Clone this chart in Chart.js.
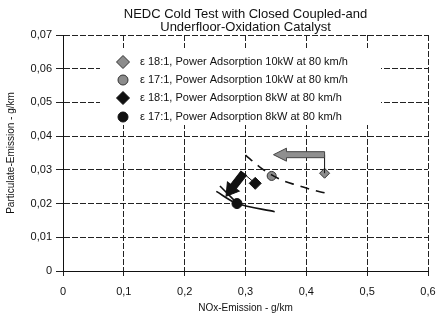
<!DOCTYPE html>
<html>
<head>
<meta charset="utf-8">
<script src="https://cdn.jsdelivr.net/npm/chart.js@4.4.1/dist/chart.umd.min.js"></script>
<style>
  html, body { margin: 0; padding: 0; background: #fff; }
  #wrap { width: 438px; height: 314px; }
</style>
</head>
<body>
<div id="wrap"><canvas id="grafico" width="438" height="314"></canvas></div>
<script>
// dados
var tituloLinhas = ["NEDC Cold Test with Closed Coupled-and", "Underfloor-Oxidation Catalyst"];
var xTickValores = [0, 0.1, 0.2, 0.3, 0.4, 0.5, 0.6];
var xTickLabels = ["0", "0,1", "0,2", "0,3", "0,4", "0,5", "0,6"];
var yTickValores = [0, 0.01, 0.02, 0.03, 0.04, 0.05, 0.06, 0.07];
var yTickLabels = ["0", "0,01", "0,02", "0,03", "0,04", "0,05", "0,06", "0,07"];

var serieLabels = [
  "\u03b5 18:1, Power Adsorption 10kW at 80 km/h",
  "\u03b5 17:1, Power Adsorption 10kW at 80 km/h",
  "\u03b5 18:1, Power Adsorption 8kW at 80 km/h",
  "\u03b5 17:1, Power Adsorption 8kW at 80 km/h"
];
var noxValores = [0.430, 0.343, 0.316, 0.286];
var pmValores = [0.0290, 0.0282, 0.0260, 0.0200];

// curva tracejada (10kW)
var tracejadaX = [0.300, 0.323, 0.343, 0.364, 0.384, 0.411, 0.430];
var tracejadaY = [0.0344, 0.0309, 0.0285, 0.0266, 0.0255, 0.0240, 0.0232];
// linhas cheias (8kW)
var cheiaAX = [0.252, 0.286, 0.348];
var cheiaAY = [0.0236, 0.0200, 0.0176];
var cheiaBX = [0.258, 0.284];
var cheiaBY = [0.0252, 0.0205];
// ligacoes finas
var ligaAX = [0.430, 0.430];
var ligaAY = [0.0290, 0.0345];
var ligaBX = [0.293, 0.316];
var ligaBY = [0.0295, 0.0260];
// setas: [x inicio, y inicio, x ponta, y ponta]
var setaCinza = [0.430, 0.0345, 0.346, 0.0345];
var setaPreta = [0.297, 0.0290, 0.268, 0.0222];

function pares(xs, ys) {
  return xs.map(function (x, i) { return { x: x, y: ys[i] }; });
}

var estilos = [
  { pointStyle: "rectRot", radius: 5, fill: "#8c8c8c", borda: "#333" },
  { pointStyle: "circle", radius: 4.5, fill: "#8c8c8c", borda: "#333" },
  { pointStyle: "rectRot", radius: 6, fill: "#111", borda: "#111" },
  { pointStyle: "circle", radius: 5, fill: "#111", borda: "#111" }
];

var datasets = [];
// linhas
datasets.push({ type: "line", data: pares(tracejadaX, tracejadaY), borderColor: "#111", borderWidth: 1.6,
  borderDash: [9, 7], pointRadius: 0, cubicInterpolationMode: "monotone", fill: false });
datasets.push({ type: "line", data: pares(cheiaAX, cheiaAY), borderColor: "#111", borderWidth: 1.6,
  pointRadius: 0, tension: 0.3, fill: false });
datasets.push({ type: "line", data: pares(cheiaBX, cheiaBY), borderColor: "#111", borderWidth: 1.6,
  pointRadius: 0, fill: false });
datasets.push({ type: "line", data: pares(ligaAX, ligaAY), borderColor: "#111", borderWidth: 1,
  pointRadius: 0, fill: false });
datasets.push({ type: "line", data: pares(ligaBX, ligaBY), borderColor: "#111", borderWidth: 1,
  pointRadius: 0, fill: false });
// pontos
for (var i = 0; i < serieLabels.length; i++) {
  datasets.push({
    type: "scatter",
    label: serieLabels[i],
    data: [{ x: noxValores[i], y: pmValores[i] }],
    pointStyle: estilos[i].pointStyle,
    pointRadius: estilos[i].radius,
    backgroundColor: estilos[i].fill,
    borderColor: estilos[i].borda,
    borderWidth: 1
  });
}

function desenharSeta(ctx, x0, y0, x1, y1, meia, cabeca, compCabeca, cor, borda) {
  var ang = Math.atan2(y1 - y0, x1 - x0);
  var len = Math.hypot(x1 - x0, y1 - y0);
  ctx.save();
  ctx.translate(x0, y0);
  ctx.rotate(ang);
  ctx.beginPath();
  ctx.moveTo(0, -meia);
  ctx.lineTo(len - compCabeca, -meia);
  ctx.lineTo(len - compCabeca, -cabeca);
  ctx.lineTo(len, 0);
  ctx.lineTo(len - compCabeca, cabeca);
  ctx.lineTo(len - compCabeca, meia);
  ctx.lineTo(0, meia);
  ctx.closePath();
  ctx.fillStyle = cor;
  ctx.fill();
  ctx.lineWidth = 1;
  ctx.strokeStyle = borda;
  ctx.stroke();
  ctx.restore();
}

var extras = {
  id: "extras",
  afterDatasetsDraw: function (chart) {
    var ctx = chart.ctx;
    var sx = chart.scales.x, sy = chart.scales.y;
    desenharSeta(ctx, sx.getPixelForValue(setaCinza[0]), sy.getPixelForValue(setaCinza[1]),
      sx.getPixelForValue(setaCinza[2]), sy.getPixelForValue(setaCinza[3]), 3, 6.5, 13, "#8f8f8f", "#444");
    desenharSeta(ctx, sx.getPixelForValue(setaPreta[0]), sy.getPixelForValue(setaPreta[1]),
      sx.getPixelForValue(setaPreta[2]), sy.getPixelForValue(setaPreta[3]), 3.5, 7.5, 12, "#111", "#111");
  },
  afterDraw: function (chart) {
    var ctx = chart.ctx;
    var area = chart.chartArea;
    // titulo
    ctx.save();
    ctx.fillStyle = "#111";
    ctx.font = "13px 'Liberation Sans', Arial, sans-serif";
    ctx.textAlign = "center";
    ctx.textBaseline = "middle";
    var cx = (area.left + area.right) / 2;
    ctx.fillText(tituloLinhas[0], cx, 14);
    ctx.fillText(tituloLinhas[1], cx, 27);
    // legenda dentro do grafico
    ctx.fillStyle = "#fff";
    ctx.fillRect(100, 48, 281, 77);
    var linhas = [62, 80, 98, 117];
    ctx.font = "11px 'Liberation Sans', Arial, sans-serif";
    ctx.textAlign = "left";
    for (var i = 0; i < serieLabels.length; i++) {
      var ds = chart.data.datasets[5 + i];
      ctx.fillStyle = ds.backgroundColor;
      ctx.strokeStyle = ds.borderColor;
      ctx.lineWidth = 1;
      Chart.helpers.drawPoint(ctx, { pointStyle: ds.pointStyle, radius: ds.pointStyle === "rectRot" ? 6.5 : 5, borderWidth: 1, rotation: 0 }, 123, linhas[i]);
      ctx.fillStyle = "#111";
      ctx.fillText(serieLabels[i], 140, linhas[i]);
    }
    ctx.restore();
  }
};

var fonte = "'Liberation Sans', Arial, sans-serif";

var graf = document.getElementById("grafico").getContext("2d");
var grafico = new Chart(graf, {
  data: { datasets: datasets },
  options: {
    responsive: false,
    animation: false,
    layout: { padding: { top: 35, right: 10, left: 0, bottom: 0 } },
    plugins: { legend: { display: false }, title: { display: false }, tooltip: { enabled: false } },
    scales: {
      x: {
        type: "linear", min: 0, max: 0.6,
        afterFit: function (s) { s.height = 43; s.paddingLeft = 0; s.paddingRight = 0; },
        afterBuildTicks: function (s) { s.ticks = xTickValores.map(function (v) { return { value: v }; }); },
        ticks: {
          color: "#111", padding: 9, maxRotation: 0,
          font: { family: fonte, size: 11 },
          callback: function (v, i) { return xTickLabels[i]; }
        },
        grid: { color: "#222", lineWidth: 1, tickLength: 5 },
        border: { color: "#111", width: 1, dash: [6, 2] },
        title: {
          display: true, text: "NOx-Emission - g/km", color: "#111",
          font: { family: fonte, size: 10 },
          padding: { top: 0, bottom: 0 }
        }
      },
      y: {
        type: "linear", min: 0, max: 0.07,
        afterFit: function (s) { s.width = 63; },
        afterBuildTicks: function (s) { s.ticks = yTickValores.map(function (v) { return { value: v }; }); },
        ticks: {
          color: "#111", padding: 4,
          font: { family: fonte, size: 11 },
          callback: function (v, i) { return yTickLabels[i]; }
        },
        grid: { color: "#222", lineWidth: 1, tickLength: 7 },
        border: { color: "#111", width: 1, dash: [6, 2] },
        title: {
          display: true, text: "Particulate-Emission - g/km", color: "#111",
          font: { family: fonte, size: 10 },
          padding: { top: 5, bottom: 0 }
        }
      }
    }
  },
  plugins: [extras]
});
</script>
</body>
</html>
